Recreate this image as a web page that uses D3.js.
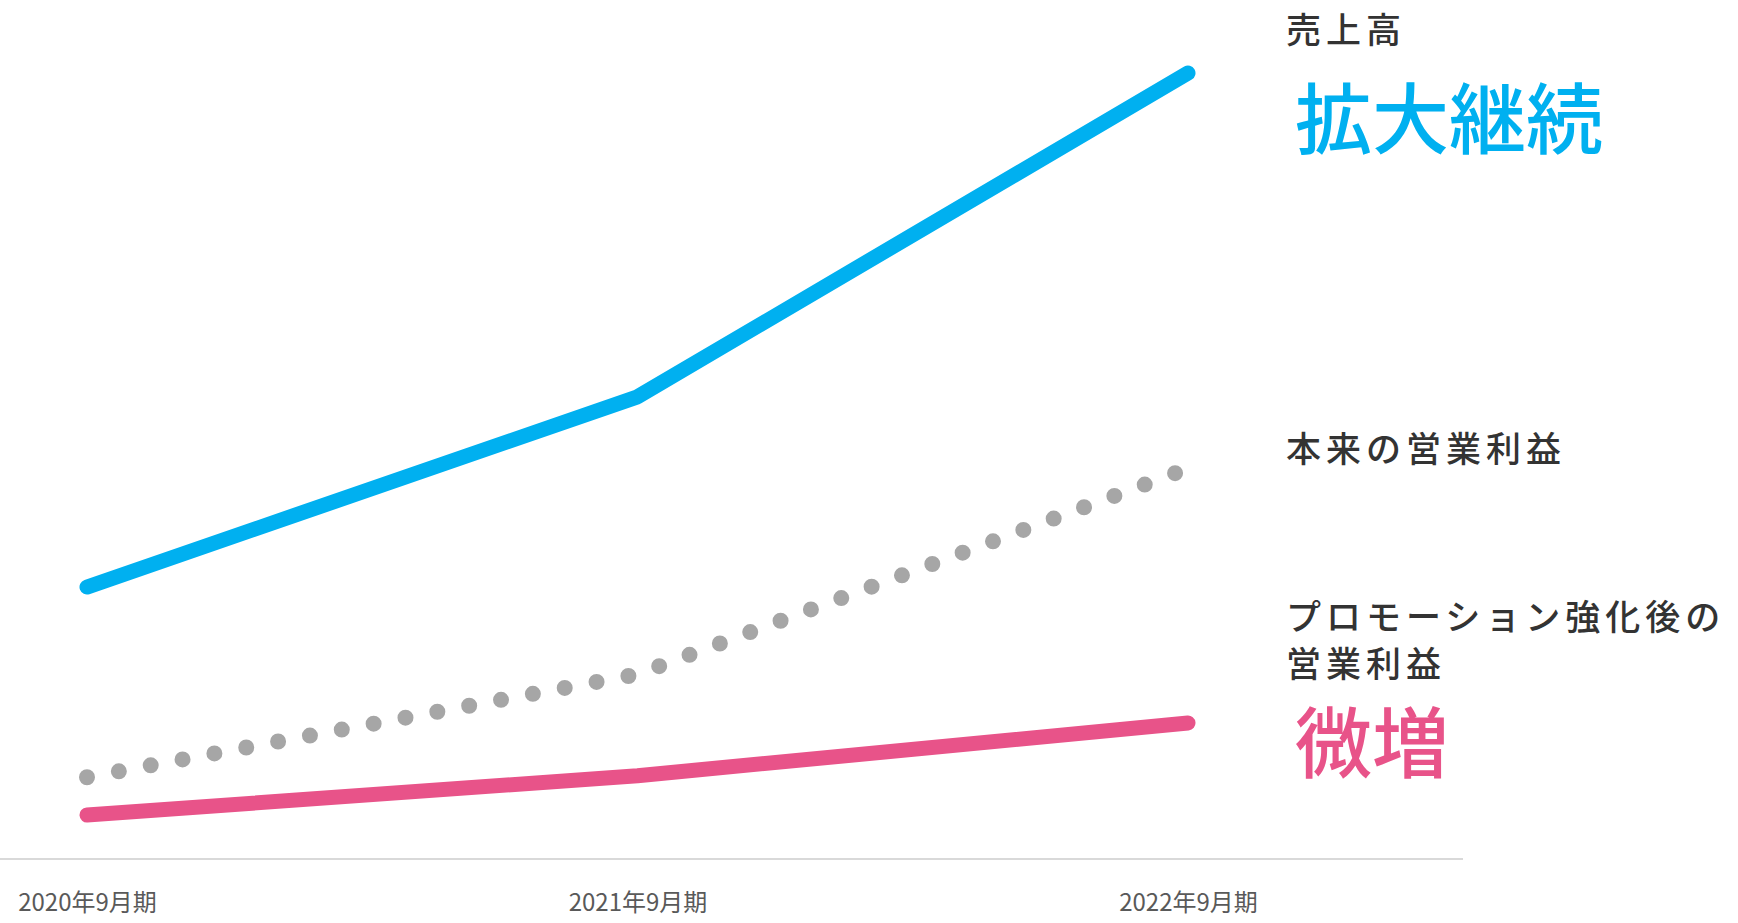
<!DOCTYPE html>
<html>
<head>
<meta charset="utf-8">
<script src="https://cdn.jsdelivr.net/npm/d3@7"></script>
<style>
  html, body { margin: 0; padding: 0; background: #fff; }
  svg { display: block; font-family: "Noto Sans CJK JP", "Noto Sans", sans-serif; }
</style>
</head>
<body>
<div id="chart"></div>
<script>
// periods on the x axis
const periods = ["2020年9月期", "2021年9月期", "2022年9月期"];

// index values (0 = baseline, 100 = top of sales line)
const salesValues = [34.6, 58.8, 100];
const originalProfitValues = [10.4, 23.5, 49.7];
const promoProfitValues = [5.6, 10.6, 17.3];

// labels on the right
const salesLabel = "売上高";
const salesComment = "拡大継続";
const originalLabel = "本来の営業利益";
const promoLabel = ["プロモーション強化後の", "営業利益"];
const promoComment = "微増";

function renderChart() {
    const width = 1738, height = 923;

    const svg = d3.select("#chart").append("svg")
        .attr("width", width)
        .attr("height", height);

    const x = d3.scalePoint()
        .domain(periods)
        .range([87, 1188]);

    const y = d3.scaleLinear()
        .domain([0, 100])
        .range([859, 73]);

    // baseline
    svg.append("line")
        .attr("x1", 0)
        .attr("x2", 1463)
        .attr("y1", y(0))
        .attr("y2", y(0))
        .attr("stroke", "#d9d9d9")
        .attr("stroke-width", 2);

    // axis labels only
    const axis = svg.append("g")
        .attr("transform", `translate(0,${y(0)})`)
        .call(d3.axisBottom(x).tickSize(0).tickPadding(0));
    axis.select(".domain").remove();
    axis.selectAll("text")
        .attr("y", 52)
        .attr("dy", null)
        .attr("font-family", "'Noto Sans CJK JP', sans-serif")
        .attr("font-size", "24px")
        .attr("fill", "#595959");

    const line = d3.line()
        .x((d, i) => x(periods[i]))
        .y(d => y(d));

    // original profit (dotted)
    svg.append("path")
        .datum(originalProfitValues)
        .attr("d", line)
        .attr("fill", "none")
        .attr("stroke", "#a6a6a6")
        .attr("stroke-width", 16)
        .attr("stroke-linecap", "round")
        .attr("stroke-dasharray", "0 32.4");

    // sales
    svg.append("path")
        .datum(salesValues)
        .attr("d", line)
        .attr("fill", "none")
        .attr("stroke", "#00b0f0")
        .attr("stroke-width", 15)
        .attr("stroke-linecap", "round")
        .attr("stroke-linejoin", "round");

    // profit after promotion
    svg.append("path")
        .datum(promoProfitValues)
        .attr("d", line)
        .attr("fill", "none")
        .attr("stroke", "#e85389")
        .attr("stroke-width", 15)
        .attr("stroke-linecap", "round")
        .attr("stroke-linejoin", "round");

    // right hand labels
    const small = (txt, ty) => svg.append("text")
        .attr("x", 1286)
        .attr("y", ty)
        .attr("font-size", "35px")
        .attr("font-weight", 500)
        .attr("letter-spacing", "5px")
        .attr("fill", "#333")
        .text(txt);

    const big = (txt, ty, color) => svg.append("text")
        .attr("x", 1295)
        .attr("y", ty)
        .attr("font-size", "77px")
        .attr("font-weight", 500)
        .attr("fill", color)
        .text(txt);

    small(salesLabel, 43);
    big(salesComment, 148, "#00b0f0");
    small(originalLabel, 462);
    small(promoLabel[0], 630);
    small(promoLabel[1], 677);
    big(promoComment, 772, "#e85389");
}

renderChart();
</script>
</body>
</html>
